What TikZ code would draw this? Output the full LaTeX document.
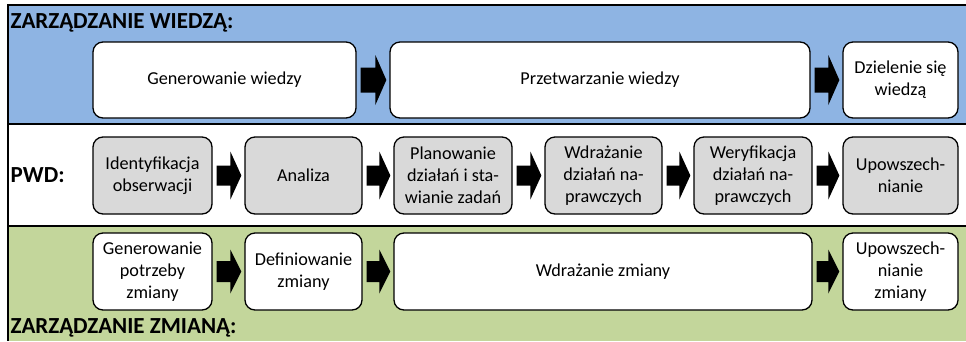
\documentclass[tikz,border=0pt]{standalone}
\usepackage{fontspec}
\setmainfont{Carlito}
\usetikzlibrary{calc}
\definecolor{bandblue}{HTML}{8EB4E3}
\definecolor{bandgreen}{HTML}{C3D69B}
\definecolor{boxgray}{HTML}{D9D9D9}
\tikzset{
  procbox/.style={draw=black, line width=1.3pt, rounded corners=10pt, fill=white,
    align=center, inner sep=0pt, font=\fontsize{18.2}{22}\selectfont},
  graybox/.style={procbox, fill=boxgray},
  bandtitle/.style={anchor=west, inner sep=0pt, font=\fontsize{23}{25}\selectfont\bfseries},
  frameline/.style={line width=1.6pt, draw=black}
}
\newcommand\blockarr[4]{% from, to, shaft half, head half
  \fill[black] let \p1=(#1.east), \p2=(#2.west) in
    (\x1+4pt,\y1+#3pt) -- (\x2-14pt,\y1+#3pt) -- (\x2-14pt,\y1+#4pt) --
    (\x2-3pt,\y1) -- (\x2-14pt,\y1-#4pt) -- (\x2-14pt,\y1-#3pt) --
    (\x1+4pt,\y1-#3pt) -- cycle;}
\begin{document}
\begin{tikzpicture}[x=1pt,y=-1pt]
\useasboundingbox (0,0) rectangle (966,341);
% bands
\fill[bandblue] (8,5) rectangle (966,124);
\fill[white] (8,124) rectangle (966,226);
\fill[bandgreen] (8,226) rectangle (966,341);
\draw[frameline] (966,5) -- (8,5) -- (8,341);
\draw[frameline] (8,124) -- (966,124);
\draw[frameline] (8,226) -- (966,226);
% titles
\node[bandtitle] (t1) at (10.5,23) {ZARZĄDZANIE WIEDZĄ:};
\node[bandtitle] (t2) at (10.5,175) {PWD:};
\node[bandtitle] (t3) at (10.5,328) {ZARZĄDZANIE ZMIANĄ:};
% top row
\node[procbox, minimum width=263pt, minimum height=76pt] (gw) at (224.5,80) {Generowanie wiedzy};
\node[procbox, minimum width=420pt, minimum height=76pt] (pw) at (600,80) {Przetwarzanie wiedzy};
\node[procbox, minimum width=115pt, minimum height=76pt] (dz) at (900.5,80) {Dzielenie się\\wiedzą};
\blockarr{gw}{pw}{12.5}{25}
\blockarr{pw}{dz}{12.5}{25}
% middle row
\node[graybox, minimum width=119pt, minimum height=77pt] (id) at (152.5,175.5) {Identyfikacja\\obserwacji};
\node[graybox, minimum width=117pt, minimum height=77pt] (an) at (303.5,175.5) {Analiza};
\node[graybox, minimum width=118pt, minimum height=77pt] (pl) at (453,175.5) {Planowanie\\działań i sta-\\wianie zadań};
\node[graybox, minimum width=117pt, minimum height=77pt] (wd) at (603.5,175.5) {Wdrażanie\\działań na-\\prawczych};
\node[graybox, minimum width=118pt, minimum height=77pt] (wr) at (753,175.5) {Weryfikacja\\działań na-\\prawczych};
\node[graybox, minimum width=115pt, minimum height=77pt] (up) at (900.5,175.5) {Upowszech-\\nianie};
\blockarr{id}{an}{10}{24}
\blockarr{an}{pl}{10}{24}
\blockarr{pl}{wd}{10}{24}
\blockarr{wd}{wr}{10}{24}
\blockarr{wr}{up}{10}{24}
% bottom row
\node[procbox, minimum width=119pt, minimum height=77pt] (gp) at (152.5,271.5) {Generowanie\\potrzeby\\zmiany};
\node[procbox, minimum width=117pt, minimum height=77pt] (df) at (303.5,271.5) {Definiowanie\\zmiany};
\node[procbox, minimum width=418pt, minimum height=77pt] (wz) at (603,271.5) {Wdrażanie zmiany};
\node[procbox, minimum width=115pt, minimum height=77pt] (uz) at (900.5,271.5) {Upowszech-\\nianie\\zmiany};
\blockarr{gp}{df}{10.5}{22}
\blockarr{df}{wz}{10.5}{22}
\blockarr{wz}{uz}{10.5}{22}
\end{tikzpicture}
\end{document}
